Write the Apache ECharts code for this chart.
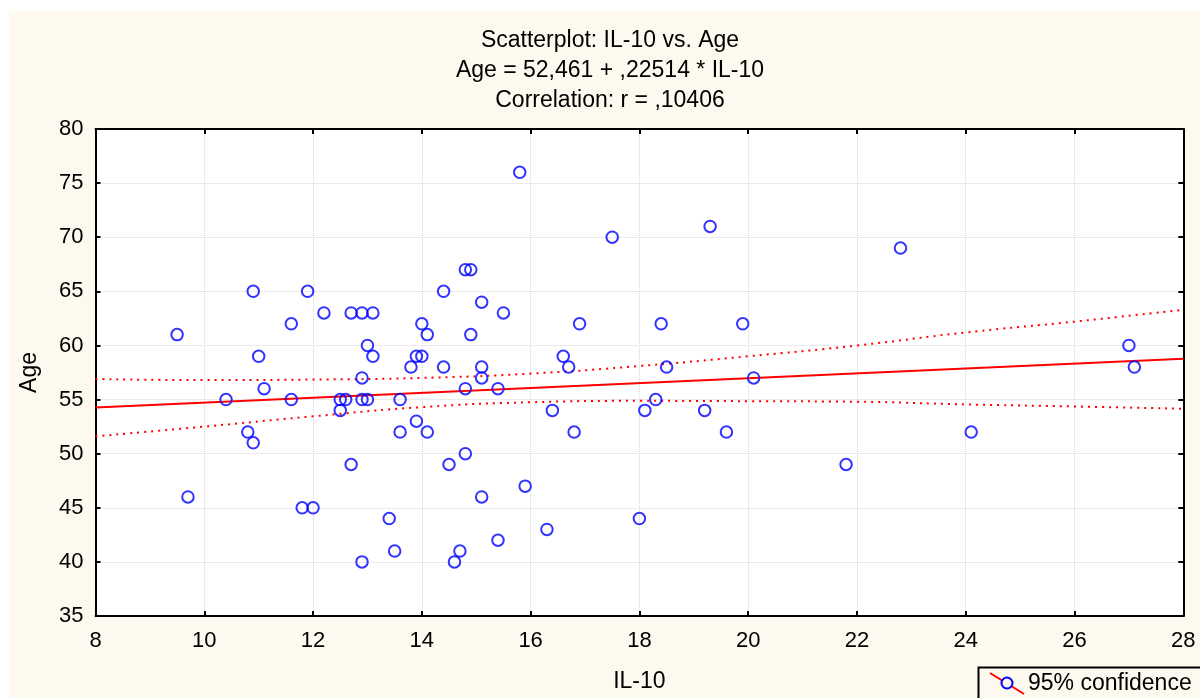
<!DOCTYPE html>
<html>
<head>
<meta charset="utf-8">
<script src="https://cdn.jsdelivr.net/npm/echarts@6/dist/echarts.min.js"></script>
<style>
html,body{margin:0;padding:0;background:#fff;}
#chart{width:1200px;height:698px;}
</style>
</head>
<body>
<div id="chart"></div>
<script>
// ---- data ----
var il10 = [9.5, 9.7, 10.4, 10.8, 10.9, 10.9, 11.0, 11.1, 11.6, 11.6, 11.8, 11.9, 12.0, 12.2, 12.5, 12.5, 12.6, 12.7, 12.7, 12.9,
            12.9, 12.9, 12.9, 13.0, 13.0, 13.1, 13.1, 13.4, 13.5, 13.6, 13.6, 13.8, 13.9, 13.9, 14.0, 14.0, 14.1, 14.1, 14.4, 14.4,
            14.5, 14.6, 14.7, 14.8, 14.8, 14.8, 14.9, 14.9, 15.1, 15.1, 15.1, 15.1, 15.4, 15.4, 15.5, 15.8, 15.9, 16.3, 16.4, 16.6,
            16.7, 16.8, 16.9, 17.5, 18.0, 18.1, 18.3, 18.4, 18.5, 19.2, 19.3, 19.6, 19.9, 20.1, 21.8, 22.8, 24.1, 27.0, 27.1];
var age  = [61, 46, 55, 52, 51, 65, 59, 56, 62, 55, 45, 65, 45, 63, 55, 54, 55, 63, 49, 63,
            57, 55, 40, 60, 55, 63, 59, 44, 41, 55, 52, 58, 59, 53, 59, 62, 61, 52, 65, 58,
            49, 40, 41, 67, 56, 50, 67, 61, 64, 58, 57, 46, 56, 42, 63, 76, 47, 43, 54, 59,
            58, 52, 62, 70, 44, 54, 55, 62, 58, 54, 71, 52, 62, 57, 49, 69, 52, 60, 58];
// regression line endpoints (Age = 52,461 + ,22514 * IL-10)
var regX = [8, 28];
var regY = [54.26, 58.76];
// 95% confidence band
var bandX  = [8, 10, 12, 14, 16, 18, 20, 22, 24, 26, 28];
var bandHi = [56.9, 56.8, 56.85, 57.0, 57.4, 58.1, 59.0, 60.0, 61.2, 62.2, 63.3];
var bandLo = [51.6, 52.5, 53.45, 54.3, 54.75, 54.88, 54.85, 54.8, 54.55, 54.36, 54.15];
var titleLines = ['Scatterplot: IL-10 vs. Age', 'Age = 52,461 + ,22514 * IL-10', 'Correlation: r = ,10406'];
var xName = 'IL-10', yName = 'Age', legendText = '95% confidence';

function zip(a, b) { return a.map(function (v, i) { return [v, b[i]]; }); }

var FONT = 'Liberation Sans, Arial, sans-serif';
var chart = echarts.init(document.getElementById('chart'), null, {renderer: 'canvas'});
var gridCfg = {left: 95.5, right: 16.7, top: 129, bottom: 80, show: true, backgroundColor: '#ffffff', borderWidth: 0};
var axisLineStyle = {color: '#000', width: 2};

chart.setOption({
  backgroundColor: '#FEF9EE',
  animation: false,
  title: {
    text: titleLines.join('\n'),
    left: 605, top: 21, textAlign: 'center',
    textStyle: {fontFamily: FONT, fontSize: 23, fontWeight: 'normal', color: '#000', lineHeight: 30}
  },
  grid: gridCfg,
  xAxis: [{
    type: 'value', min: 8, max: 28, interval: 2, position: 'bottom',
    name: xName, nameLocation: 'middle', nameGap: 54,
    nameTextStyle: {fontFamily: FONT, fontSize: 23, color: '#000'},
    axisLine: {show: true, onZero: false, lineStyle: axisLineStyle},
    axisTick: {show: true, inside: true, length: 5, lineStyle: {color: '#000', width: 2}},
    axisLabel: {fontFamily: FONT, fontSize: 22, color: '#000', margin: 14},
    splitLine: {show: true, lineStyle: {type: 'dotted', color: '#d6d6d6', width: 1}}
  }, {
    type: 'value', min: 8, max: 28, interval: 2, position: 'top',
    axisLine: {show: true, onZero: false, lineStyle: axisLineStyle},
    axisTick: {show: true, inside: true, length: 5, lineStyle: {color: '#000', width: 2}},
    axisLabel: {show: false}, splitLine: {show: false}
  }],
  yAxis: [{
    type: 'value', min: 35, max: 80, interval: 5, position: 'left',
    name: yName, nameLocation: 'middle', nameGap: 54, nameRotate: 90,
    nameTextStyle: {fontFamily: FONT, fontSize: 23, color: '#000'},
    axisLine: {show: true, onZero: false, lineStyle: axisLineStyle},
    axisTick: {show: true, inside: true, length: 5, lineStyle: {color: '#000', width: 2}},
    axisLabel: {fontFamily: FONT, fontSize: 22, color: '#000', margin: 12},
    splitLine: {show: true, lineStyle: {type: 'dotted', color: '#d6d6d6', width: 1}}
  }, {
    type: 'value', min: 35, max: 80, interval: 5, position: 'right',
    axisLine: {show: true, onZero: false, lineStyle: axisLineStyle},
    axisTick: {show: true, inside: true, length: 5, lineStyle: {color: '#000', width: 2}},
    axisLabel: {show: false}, splitLine: {show: false}
  }],
  series: [{
    type: 'line', data: zip(bandX, bandHi), smooth: true, symbol: 'none',
    lineStyle: {color: '#ff0000', width: 2, type: [2, 5]}, z: 2
  }, {
    type: 'line', data: zip(bandX, bandLo), smooth: true, symbol: 'none',
    lineStyle: {color: '#ff0000', width: 2, type: [2, 5]}, z: 2
  }, {
    type: 'line', data: zip(regX, regY), symbol: 'none',
    lineStyle: {color: '#ff0000', width: 2}, z: 3
  }, {
    type: 'scatter', data: zip(il10, age), symbol: 'circle', symbolSize: 11.5,
    itemStyle: {color: 'rgba(0,0,0,0)', borderColor: '#0000ff', borderWidth: 2}, z: 4
  }],
  graphic: [
    {type: 'rect', shape: {x: 0, y: 0, width: 1200, height: 11}, style: {fill: '#ffffff'}, silent: true},
    {type: 'rect', shape: {x: 0, y: 0, width: 9, height: 698}, style: {fill: '#ffffff'}, silent: true},
    {type: 'rect', shape: {x: 978.5, y: 667.5, width: 240, height: 40}, style: {fill: '#FEF9EE', stroke: '#000', lineWidth: 2}, silent: true},
    {type: 'line', shape: {x1: 990, y1: 673, x2: 1024, y2: 694}, style: {stroke: '#ff0000', lineWidth: 2}, silent: true},
    {type: 'circle', shape: {cx: 1007, cy: 683, r: 5.5}, style: {fill: '#FEF9EE', stroke: '#0000ff', lineWidth: 2}, silent: true},
    {type: 'text', x: 1028, y: 684, style: {text: legendText, fontFamily: FONT, fontSize: 23, fill: '#000', textVerticalAlign: 'middle', verticalAlign: 'middle'}, silent: true}
  ]
});
</script>
</body>
</html>
